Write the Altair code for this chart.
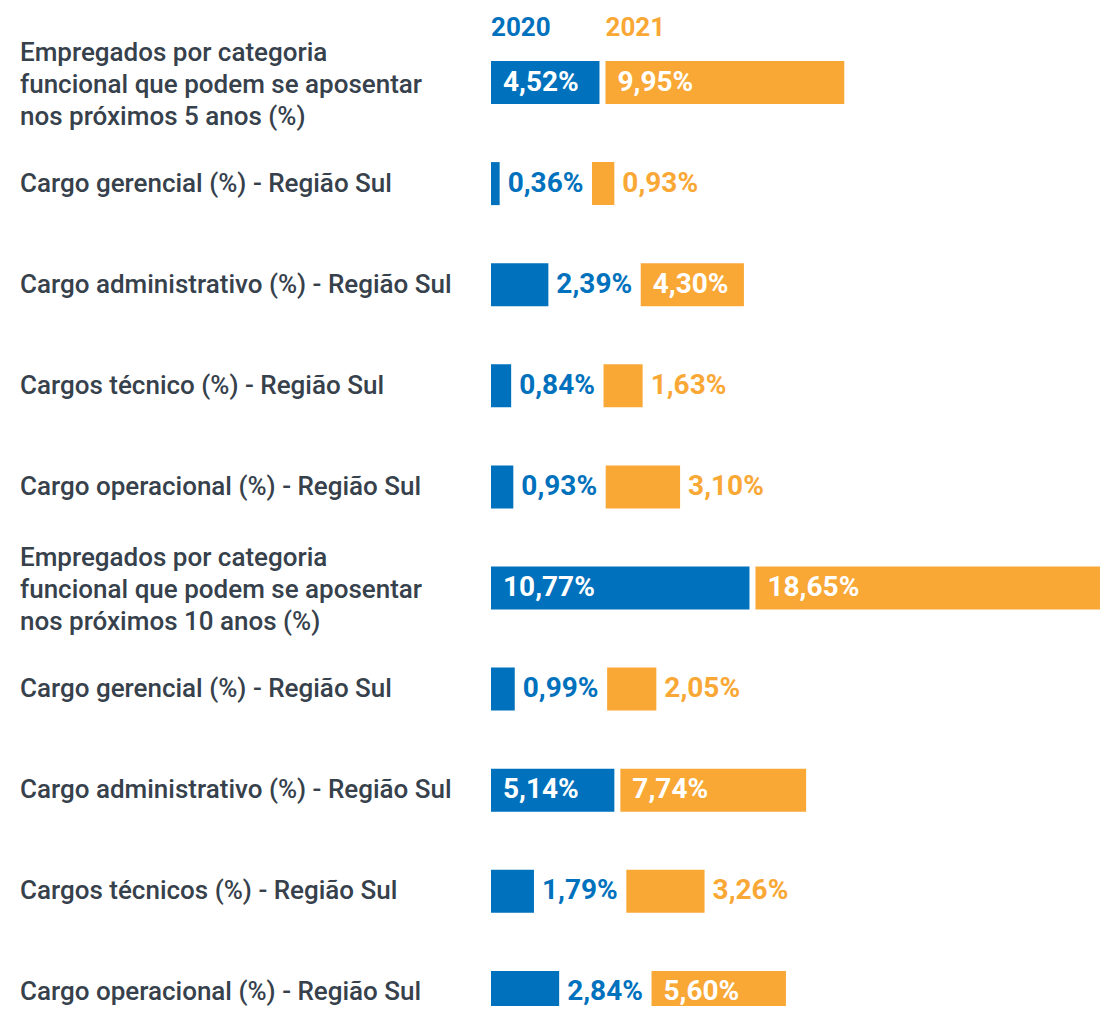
import altair as alt
import pandas as pd

# ---- data ----
categories = [
    "Empregados por categoria\nfuncional que podem se aposentar\nnos próximos 5 anos (%)",
    "Cargo gerencial (%) - Região Sul",
    "Cargo administrativo (%) - Região Sul",
    "Cargos técnico (%) - Região Sul",
    "Cargo operacional (%) - Região Sul",
    "Empregados por categoria\nfuncional que podem se aposentar\nnos próximos 10 anos (%)",
    "Cargo gerencial (%) - Região Sul",
    "Cargo administrativo (%) - Região Sul",
    "Cargos técnicos (%) - Região Sul",
    "Cargo operacional (%) - Região Sul",
]
years = ["2020", "2021"]
values_2020 = [4.52, 0.36, 2.39, 0.84, 0.93, 10.77, 0.99, 5.14, 1.79, 2.84]
values_2021 = [9.95, 0.93, 4.30, 1.63, 3.10, 18.65, 2.05, 7.74, 3.26, 5.60]

# ---- layout / style ----
BLUE = "#0071bc"
ORANGE = "#f9a836"
TEXT = "#36414c"
PX_PER_UNIT = 24.0
PLOT_W = 609
PLOT_H = 998
ROW_STEP = 101.1
FIRST_ROW = 74.5
VAL_SIZE = 28
LINE_H = 32
PAD_IN, PAD_OUT, GAP, GAP_LABEL = 12, 8, 6, 10


def fmt(v):
    return f"{v:.2f}".replace(".", ",") + "%"


def text_width(s, size=VAL_SIZE):
    w = 0.0
    for ch in s:
        if ch.isdigit():
            w += 0.562
        elif ch == ",":
            w += 0.24
        elif ch == "%":
            w += 0.73
        else:
            w += 0.5
    return w * size


recs = []
for i, (a, b) in enumerate(zip(values_2020, values_2021)):
    start = 0.0
    for year, v in zip(years, (a, b)):
        lab = fmt(v)
        w = text_width(lab)
        bar_px = v * PX_PER_UNIT
        end = start + bar_px
        inside = bar_px >= PAD_IN + w + 8
        lx = start + PAD_IN if inside else end + PAD_OUT
        recs.append(dict(row=i, year=year, value=v,
                         start=start / PX_PER_UNIT, end=end / PX_PER_UNIT,
                         label=lab, label_x=lx / PX_PER_UNIT, inside=inside))
        start = end + GAP if inside else lx + w + GAP_LABEL
df = pd.DataFrame(recs)

df_cat = pd.DataFrame({
    "row": list(range(len(categories))),
    "cat": categories,
    "lines": [c.count("\n") + 1 for c in categories],
})
first = df[df.row == 0]
df_head = pd.DataFrame({"year": years, "x": list(first.start)})

d0 = -FIRST_ROW / ROW_STEP
d1 = d0 + PLOT_H / ROW_STEP
yscale = alt.Scale(domain=[d0, d1], reverse=True, nice=False, zero=False, padding=0)
xscale = alt.Scale(domain=[0, PLOT_W / PX_PER_UNIT], nice=False, zero=False, padding=0)
cscale = alt.Scale(domain=years, range=[BLUE, ORANGE])

bars = alt.Chart(df).mark_bar(size=43, orient="horizontal", clip=True).encode(
    x=alt.X("start:Q", scale=xscale, axis=None),
    x2="end:Q",
    y=alt.Y("row:Q", scale=yscale, axis=None),
    color=alt.Color("year:N", scale=cscale, legend=None),
)

lab_in = alt.Chart(df).transform_filter("datum.inside").mark_text(
    align="left", baseline="middle", font="Roboto", fontSize=VAL_SIZE,
    fontWeight="bold", color="white", clip=True
).encode(
    x=alt.X("label_x:Q", scale=xscale, axis=None),
    y=alt.Y("row:Q", scale=yscale, axis=None),
    text="label:N",
)

lab_out = alt.Chart(df).transform_filter("!datum.inside").mark_text(
    align="left", baseline="middle", font="Roboto", fontSize=VAL_SIZE,
    fontWeight="bold", clip=True
).encode(
    x=alt.X("label_x:Q", scale=xscale, axis=None),
    y=alt.Y("row:Q", scale=yscale, axis=None),
    text="label:N",
    color=alt.Color("year:N", scale=cscale, legend=None),
)

cat_style = dict(align="left", baseline="middle", font="Roboto", fontSize=26,
                 fontWeight=500, color=TEXT, lineBreak="\n", lineHeight=LINE_H)

cats_single = alt.Chart(df_cat).transform_filter("datum.lines == 1").mark_text(
    **cat_style
).encode(
    x=alt.value(-471),
    y=alt.Y("row:Q", scale=yscale, axis=None),
    text="cat:N",
)

cats_multi = alt.Chart(df_cat).transform_filter("datum.lines == 3").mark_text(
    dy=-LINE_H + 2, **cat_style
).encode(
    x=alt.value(-471),
    y=alt.Y("row:Q", scale=yscale, axis=None),
    text="cat:N",
)

head = alt.Chart(df_head).mark_text(
    align="left", baseline="middle", font="Roboto", fontSize=26, fontWeight="bold"
).encode(
    x=alt.X("x:Q", scale=xscale, axis=None),
    y=alt.value(20),
    text="year:N",
    color=alt.Color("year:N", scale=cscale, legend=None),
)

chart = alt.layer(bars, lab_in, lab_out, cats_single, cats_multi, head).properties(
    width=PLOT_W, height=PLOT_H,
    padding={"left": 483, "top": 0, "right": 0, "bottom": 0},
    autosize=alt.AutoSizeParams(type="none"),
).configure_view(stroke=None)

chart.save("out.html", embed_options={"renderer": "svg", "actions": False})
